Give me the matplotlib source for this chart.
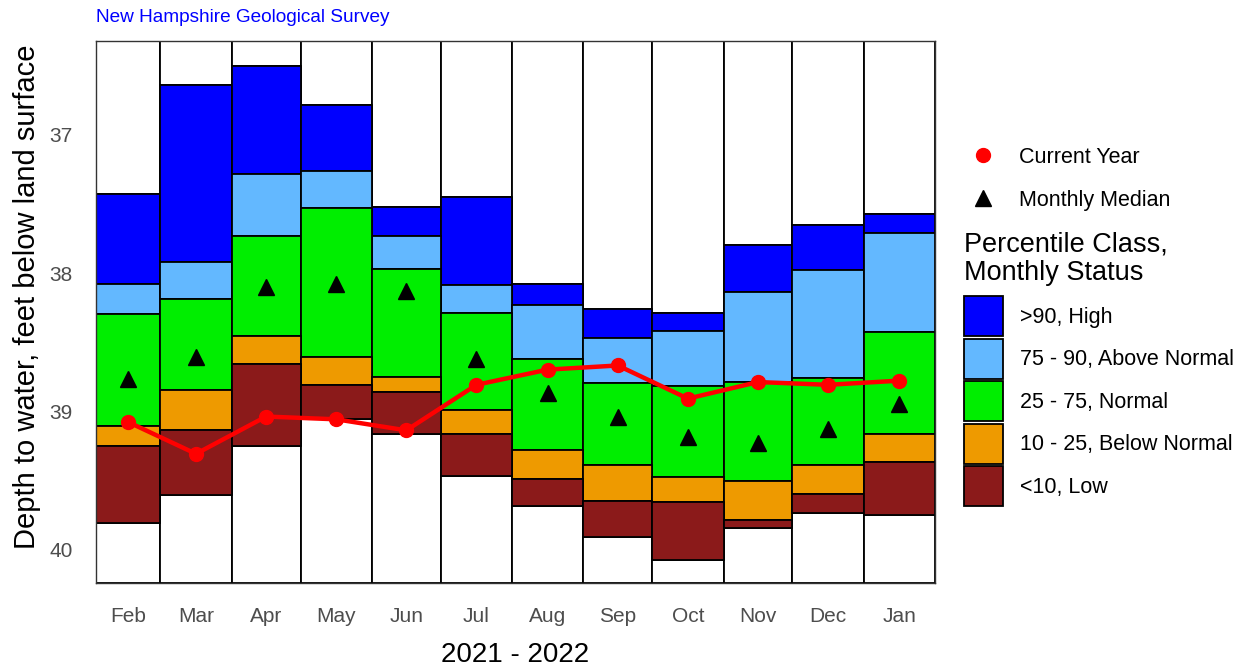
import matplotlib
matplotlib.use("Agg")
import matplotlib.pyplot as plt
import numpy as np
from matplotlib.lines import Line2D
from matplotlib.patches import Patch

MONTHS = ["Feb", "Mar", "Apr", "May", "Jun", "Jul", "Aug", "Sep", "Oct", "Nov", "Dec", "Jan"]

# percentile class boundaries, depth to water (ft below land surface)
P_MAX = [37.43, 36.64, 36.50, 36.78, 37.52, 37.45, 38.08, 38.26, 38.29, 37.80, 37.65, 37.57]
P_90 = [38.08, 37.92, 37.28, 37.26, 37.73, 38.09, 38.23, 38.47, 38.42, 38.14, 37.98, 37.71]
P_75 = [38.30, 38.19, 37.73, 37.53, 37.97, 38.29, 38.62, 38.80, 38.82, 38.79, 38.76, 38.43]
P_25 = [39.11, 38.85, 38.46, 38.61, 38.75, 38.99, 39.28, 39.39, 39.48, 39.51, 39.39, 39.17]
P_10 = [39.25, 39.14, 38.66, 38.81, 38.86, 39.17, 39.49, 39.65, 39.66, 39.79, 39.60, 39.37]
P_MIN = [39.81, 39.61, 39.25, 39.06, 39.17, 39.47, 39.69, 39.91, 40.08, 39.85, 39.74, 39.75]

MEDIAN = [38.77, 38.61, 38.10, 38.08, 38.13, 38.62, 38.87, 39.04, 39.19, 39.23, 39.13, 38.95]
CURRENT = [39.08, 39.31, 39.04, 39.06, 39.14, 38.81, 38.70, 38.67, 38.91, 38.79, 38.81, 38.78]

CLASS_LABELS = [">90, High", "75 - 90, Above Normal", "25 - 75, Normal",
                "10 - 25, Below Normal", "<10, Low"]
CLASS_COLORS = ["#0000FF", "#63B8FF", "#00EE00", "#EE9A00", "#8B1A1A"]

Y_LIMIT = (40.246, 36.319)
TEXT_GRAY = "#4D4D4D"

plt.rcParams["font.family"] = ["Liberation Sans", "DejaVu Sans"]

# bars span each calendar month, so widths follow days in month
starts = np.arange("2021-02", "2022-03", dtype="datetime64[M]").astype("datetime64[D]")
days = (starts - starts[0]).astype(float)
left = days[:-1]
width = np.diff(days)
mid = left + width / 2

fig = plt.figure(figsize=(12.49, 6.66), dpi=100)
ax = fig.add_axes([96 / 1249, 1 - 583 / 666, (935 - 96) / 1249, (583 - 41) / 666])

p_max = np.array(P_MAX)
p_min = np.array(P_MIN)
bounds = [P_MAX, P_90, P_75, P_25, P_10, P_MIN]
edge = dict(edgecolor="black", linewidth=1.3, align="edge")

# white caps above max and below min
ax.bar(left, p_max - Y_LIMIT[1], bottom=Y_LIMIT[1], width=width, color="white", **edge)
ax.bar(left, Y_LIMIT[0] - p_min, bottom=p_min, width=width, color="white", **edge)
for i, color in enumerate(CLASS_COLORS):
    top = np.array(bounds[i])
    bot = np.array(bounds[i + 1])
    ax.bar(left, bot - top, bottom=top, width=width, color=color, **edge)

ax.plot(mid, MEDIAN, linestyle="none", marker="^", color="black", markersize=12, zorder=4)
ax.plot(mid, CURRENT, color="red", linewidth=3.2, marker="o", markersize=10, zorder=5)

ax.set_xlim(0, days[-1])
ax.set_ylim(Y_LIMIT)
ax.set_xticks(mid, labels=MONTHS)
ax.set_yticks([37, 38, 39, 40])
ax.tick_params(length=0, labelsize=15, labelcolor=TEXT_GRAY, pad=17)
for s in ax.spines.values():
    s.set_color("#333333")
    s.set_linewidth(1)
ax.set_xlabel("2021 - 2022", fontsize=20, labelpad=12)
ax.set_ylabel("Depth to water, feet below land surface", fontsize=21)
ax.yaxis.set_label_coords(-0.066, 0.528)

fig.text(96 / 1249, 1 - 17 / 666, "New Hampshire Geological Survey", color="blue",
         fontsize=13.7, va="center", ha="left")

marker_handles = [
    Line2D([], [], linestyle="none", marker="o", color="red", markersize=10),
    Line2D([], [], linestyle="none", marker="^", color="black", markersize=12),
]
fig.legend(marker_handles, ["Current Year", "Monthly Median"], loc="upper left",
           bbox_to_anchor=(972 / 1249, 1 - 147 / 666), frameon=False, fontsize=15.5,
           handlelength=1.0, handletextpad=1.2, labelspacing=1.0, borderpad=0,
           borderaxespad=0)

fig.text(964 / 1249, 1 - 258.5 / 666, "Percentile Class,\nMonthly Status", fontsize=19.5,
         ha="left", va="center", linespacing=1.13)

patch_handles = [Patch(facecolor=c, edgecolor="black", linewidth=1.3) for c in CLASS_COLORS]
fig.legend(patch_handles, CLASS_LABELS, loc="upper left",
           bbox_to_anchor=(964 / 1249, 1 - 296 / 666), frameon=False, fontsize=15.5,
           handlelength=1.8, handleheight=2.48,
           handletextpad=0.8, labelspacing=0.12, borderpad=0, borderaxespad=0)

fig.savefig("out.png", dpi=100)
